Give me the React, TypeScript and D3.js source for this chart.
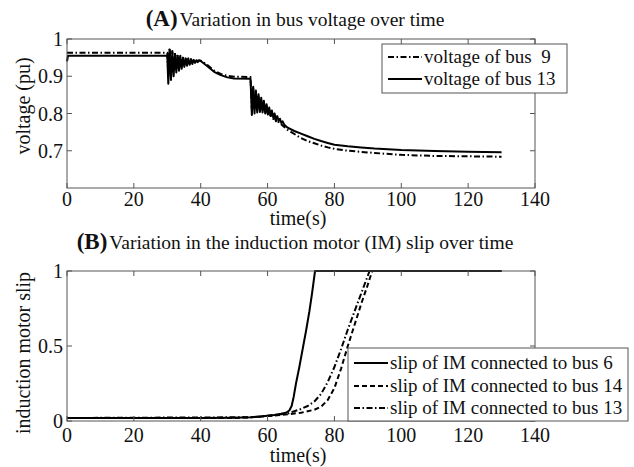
import React from "react";
import * as d3 from "d3";

// ---- data ----
const timeTicks = [0, 20, 40, 60, 80, 100, 120, 140];
const voltageTicks = [0.7, 0.8, 0.9, 1];
const slipTicks = [0, 0.5, 1];

// (A) bus voltages, [time s, voltage pu]
const bus9Voltage: [number, number][] = [
  [0, 0.963], [30, 0.963],
  [30.3, 0.905], [30.7, 0.975], [31.1, 0.915], [31.5, 0.968], [31.9, 0.922],
  [32.3, 0.963], [32.7, 0.927], [33.1, 0.958], [33.5, 0.93], [33.9, 0.955],
  [34.3, 0.933], [34.7, 0.952], [35.1, 0.935], [35.5, 0.95], [35.9, 0.936],
  [36.3, 0.948], [36.7, 0.937], [37.1, 0.946], [37.5, 0.938], [37.9, 0.945],
  [38.3, 0.939], [38.7, 0.944], [39.1, 0.94], [39.5, 0.943], [40, 0.942],
  [42, 0.93], [44, 0.915], [46, 0.906], [48, 0.901], [50, 0.899], [54.9, 0.898],
  [55.3, 0.81], [55.7, 0.868], [56.1, 0.81], [56.5, 0.858], [56.9, 0.81],
  [57.3, 0.848], [57.7, 0.808], [58.1, 0.838], [58.5, 0.805], [58.9, 0.83],
  [59.3, 0.8], [59.7, 0.82], [60.1, 0.796], [60.5, 0.81], [60.9, 0.79],
  [61.3, 0.8], [61.7, 0.785], [62.1, 0.792], [62.5, 0.779], [63, 0.783],
  [63.5, 0.772], [64, 0.772], [65, 0.764], [66, 0.756], [68, 0.745],
  [70, 0.734], [72, 0.726], [74, 0.72], [76, 0.714], [78, 0.709], [80, 0.705],
  [84, 0.7], [88, 0.697], [92, 0.694], [100, 0.689], [110, 0.686],
  [120, 0.685], [130, 0.684],
];

const bus13Voltage: [number, number][] = [
  [0, 0.94], [0.3, 0.955], [30, 0.955],
  [30.3, 0.88], [30.7, 0.972], [31.1, 0.89], [31.5, 0.965], [31.9, 0.9],
  [32.3, 0.96], [32.7, 0.91], [33.1, 0.955], [33.5, 0.915], [33.9, 0.952],
  [34.3, 0.92], [34.7, 0.95], [35.1, 0.925], [35.5, 0.948], [35.9, 0.928],
  [36.3, 0.946], [36.7, 0.931], [37.1, 0.945], [37.5, 0.933], [37.9, 0.944],
  [38.3, 0.936], [38.7, 0.943], [39.1, 0.938], [39.5, 0.942], [40, 0.941],
  [42, 0.927], [44, 0.912], [46, 0.903], [48, 0.897], [50, 0.894], [54.9, 0.893],
  [55.3, 0.796], [55.7, 0.872], [56.1, 0.8], [56.5, 0.862], [56.9, 0.803],
  [57.3, 0.852], [57.7, 0.804], [58.1, 0.842], [58.5, 0.803], [58.9, 0.834],
  [59.3, 0.8], [59.7, 0.825], [60.1, 0.797], [60.5, 0.816], [60.9, 0.793],
  [61.3, 0.808], [61.7, 0.789], [62.1, 0.8], [62.5, 0.784], [62.9, 0.793],
  [63.3, 0.78], [63.7, 0.786], [64.1, 0.775], [64.5, 0.779], [65, 0.77],
  [66, 0.762], [68, 0.753], [70, 0.746], [72, 0.739], [74, 0.732], [76, 0.726],
  [78, 0.721], [80, 0.716], [84, 0.712], [88, 0.709], [92, 0.706],
  [100, 0.702], [110, 0.699], [120, 0.697], [130, 0.696],
];

// (B) induction motor slip, [time s, slip]
const slipBus6: [number, number][] = [
  [0, 0.02], [40, 0.02], [50, 0.022], [55, 0.025], [58, 0.03], [60, 0.035],
  [62, 0.04], [64, 0.048], [65.5, 0.055], [66.5, 0.07], [67.2, 0.1],
  [67.8, 0.16], [68.5, 0.25], [69.5, 0.36], [70.5, 0.48], [71.5, 0.6],
  [72.5, 0.73], [73.3, 0.85], [74.2, 1], [130, 1],
];

const slipBus14: [number, number][] = [
  [0, 0.02], [50, 0.02], [55, 0.025], [60, 0.033], [64, 0.04], [66, 0.045],
  [68, 0.05], [70, 0.055], [72, 0.065], [74, 0.075], [76, 0.095], [78, 0.14],
  [80, 0.22], [82, 0.35], [84, 0.5], [86, 0.64], [88, 0.78], [90, 0.91],
  [91.3, 1], [130, 1],
];

const slipBus13: [number, number][] = [
  [0, 0.02], [55, 0.025], [60, 0.035], [64, 0.045], [66, 0.05], [68, 0.065],
  [70, 0.08], [72, 0.1], [74, 0.13], [76, 0.18], [78, 0.26], [80, 0.36],
  [82, 0.48], [84, 0.61], [86, 0.73], [88, 0.85], [90, 0.97], [90.5, 1],
  [130, 1],
];

const FONT = "Liberation Serif";
const DASHDOT = "6,2.5,1.5,2.5";
const DASHED = "5,3";

type Series = { data: [number, number][]; dash?: string; label: string };

function Panel(props: {
  top: number;
  bottom: number;
  yDomain: [number, number];
  yTicks: number[];
  yFormat: (v: number) => string;
  yLabel: string;
  yLabelY: number;
  tickLabelDy: number;
  xLabelDy: number;
  series: Series[];
  tag: string;
  title: string;
  titleY: number;
  legend: { x: number; y: number; w: number; h: number; rowY: number[] };
}) {
  const left = 67;
  const right = 535;
  const x = d3.scaleLinear().domain([0, 140]).range([left, right]);
  const y = d3.scaleLinear().domain(props.yDomain).range([props.bottom, props.top]);
  const line = d3
    .line<[number, number]>()
    .x((d) => x(d[0]))
    .y((d) => y(d[1]));
  const tick = 5;
  const lg = props.legend;

  return (
    <g fontFamily={FONT} fill="#111">
      <text x={295} y={props.titleY} textAnchor="middle">
        <tspan fontWeight="bold" fontSize={23}>{props.tag}</tspan>
        <tspan fontSize={19.5} dx={2}>{props.title}</tspan>
      </text>

      <defs>
        <clipPath id={"clip" + props.tag}>
          <rect x={left} y={props.top - 2} width={right - left} height={props.bottom - props.top + 2} />
        </clipPath>
      </defs>

      <rect x={left} y={props.top} width={right - left} height={props.bottom - props.top} fill="white" />

      <g clipPath={`url(#clip${props.tag})`}>
        {props.series.map((s, i) => (
          <path
            key={i}
            d={line(s.data) ?? ""}
            fill="none"
            stroke="#000"
            strokeWidth={2}
            strokeDasharray={s.dash}
            strokeLinejoin="round"
          />
        ))}
      </g>

      {/* box and inward ticks */}
      <rect
        x={left}
        y={props.top}
        width={right - left}
        height={props.bottom - props.top}
        fill="none"
        stroke="#555"
        strokeWidth={1}
      />
      {timeTicks.map((t) => (
        <g key={"xt" + t}>
          <line x1={x(t)} x2={x(t)} y1={props.bottom} y2={props.bottom - tick} stroke="#555" />
          <line x1={x(t)} x2={x(t)} y1={props.top} y2={props.top + tick} stroke="#555" />
          <text x={x(t)} y={props.bottom + props.tickLabelDy} textAnchor="middle" fontSize={20}>
            {t}
          </text>
        </g>
      ))}
      {props.yTicks.map((v) => (
        <g key={"yt" + v}>
          <line x1={left} x2={left + tick} y1={y(v)} y2={y(v)} stroke="#555" />
          <line x1={right} x2={right - tick} y1={y(v)} y2={y(v)} stroke="#555" />
          <text x={left - 4} y={y(v)} dy="0.35em" textAnchor="end" fontSize={20}>
            {props.yFormat(v)}
          </text>
        </g>
      ))}

      <text x={298} y={props.bottom + props.xLabelDy} textAnchor="middle" fontSize={20}>
        time(s)
      </text>
      <text transform={`translate(30,${props.yLabelY}) rotate(-90)`} textAnchor="middle" fontSize={20}>
        {props.yLabel}
      </text>

      {/* legend */}
      <rect x={lg.x} y={lg.y} width={lg.w} height={lg.h} fill="white" stroke="#555" />
      {props.series.map((s, i) => (
        <g key={"lg" + i}>
          <line
            x1={lg.x + 6}
            x2={lg.x + 40}
            y1={lg.rowY[i]}
            y2={lg.rowY[i]}
            stroke="#000"
            strokeWidth={2}
            strokeDasharray={s.dash}
          />
          <text x={lg.x + 42} y={lg.rowY[i]} dy="0.33em" fontSize={19} xmlSpace="preserve">
            {s.label}
          </text>
        </g>
      ))}
    </g>
  );
}

export default function App() {
  return (
    <svg
      width={634}
      height={467}
      style={{ position: "absolute", left: 0, top: 0, background: "white" }}
    >
      <Panel
        top={39}
        bottom={188}
        yDomain={[0.6, 1]}
        yTicks={voltageTicks}
        yFormat={(v) => (v === 1 ? "1" : d3.format(".1f")(v))}
        yLabel="voltage (pu)"
        yLabelY={106}
        tickLabelDy={18}
        xLabelDy={37}
        tag="(A)"
        title="Variation in bus voltage over time"
        titleY={26}
        series={[
          { data: bus9Voltage, dash: DASHDOT, label: "voltage of bus  9" },
          { data: bus13Voltage, label: "voltage of bus 13" },
        ]}
        legend={{ x: 382, y: 44, w: 185, h: 49, rowY: [57, 79] }}
      />
      <Panel
        top={271}
        bottom={421}
        yDomain={[0, 1]}
        yTicks={slipTicks}
        yFormat={(v) => (v === 0.5 ? "0.5" : String(v))}
        yLabel="induction motor slip"
        yLabelY={353}
        tickLabelDy={21}
        xLabelDy={41}
        tag="(B)"
        title="Variation in the induction motor (IM) slip over time"
        titleY={249}
        series={[
          { data: slipBus6, label: "slip of IM connected to bus 6" },
          { data: slipBus14, dash: DASHED, label: "slip of IM connected to bus 14" },
          { data: slipBus13, dash: DASHDOT, label: "slip of IM connected to bus 13" },
        ]}
        legend={{ x: 348, y: 348, w: 280, h: 73, rowY: [363, 386, 408] }}
      />
    </svg>
  );
}
